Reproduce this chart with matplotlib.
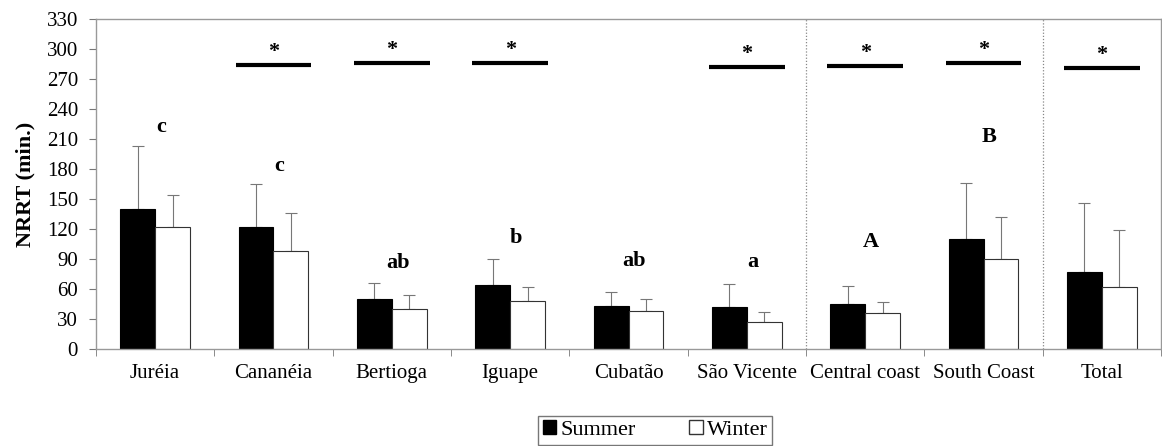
import numpy as np
import matplotlib.pyplot as plt
from matplotlib.patches import Patch

plt.rcParams['font.family'] = ['Liberation Serif', 'DejaVu Serif']

sites = ['Juréia', 'Cananéia', 'Bertioga', 'Iguape', 'Cubatão', 'São Vicente',
         'Central coast', 'South Coast', 'Total']
summer = [140, 122, 50, 64, 43, 42, 45, 110, 77]
summer_sd = [63, 43, 16, 26, 14, 23, 18, 56, 69]
winter = [122, 98, 40, 48, 38, 27, 36, 90, 62]
winter_sd = [32, 38, 14, 14, 12, 10, 11, 42, 57]

letters = ['c', 'c', 'ab', 'b', 'ab', 'a', 'A', 'B', '']
letter_y = [222, 183, 86, 111, 88, 87, 107, 212, 0]

# significance bars (category index, height)
sig_idx = [1, 2, 3, 5, 6, 7, 8]
sig_y = [284, 286, 286, 282, 283, 286, 281]

fig = plt.figure(figsize=(11.62, 4.46), dpi=100)
ax = fig.add_axes([0.0826, 0.2175, 0.9166, 0.7399])

x = np.arange(len(sites))
w = 0.295
ax.bar(x - w / 2, summer, w, color='black', edgecolor='black', lw=0.8, zorder=2)
ax.bar(x + w / 2, winter, w, color='white', edgecolor='#333333', lw=0.8, zorder=2)
ax.errorbar(x - w / 2, summer, yerr=[np.zeros(len(x)), summer_sd], fmt='none',
            ecolor='#777777', elinewidth=0.8, capsize=4, capthick=0.8, zorder=1)
ax.errorbar(x + w / 2, winter, yerr=[np.zeros(len(x)), winter_sd], fmt='none',
            ecolor='#777777', elinewidth=0.8, capsize=4, capthick=0.8, zorder=1)

for i, (t, yy) in enumerate(zip(letters, letter_y)):
    if t:
        ax.text(x[i] + 0.05, yy, t, ha='center', va='center', fontsize=16,
                fontweight='bold')

for i, yy in zip(sig_idx, sig_y):
    ax.plot([x[i] - 0.32, x[i] + 0.32], [yy, yy], color='black', lw=3,
            solid_capstyle='butt')
    ax.text(x[i], yy + 13, '*', ha='center', va='center', fontsize=16,
            fontweight='bold')

ax.axvline(5.5, color='#888888', lw=0.9, ls=(0, (1, 1.5)))
ax.axvline(7.5, color='#888888', lw=0.9, ls=(0, (1, 1.5)))

ax.set_xlim(-0.5, len(sites) - 0.5)
ax.set_ylim(0, 330)
ax.set_yticks(np.arange(0, 331, 30))
ax.set_xticks(x)
ax.set_xticklabels(sites, fontsize=15)
ax.set_xticks(np.arange(-0.5, len(sites)), minor=True)
ax.tick_params(axis='x', which='major', length=0, pad=11)
ax.tick_params(axis='x', which='minor', length=5, color='#777777')
ax.tick_params(axis='y', labelsize=15, length=5, color='#777777', pad=8)
ax.set_ylabel('NRRT (min.)', fontsize=16, fontweight='bold', labelpad=8)
for s in ax.spines.values():
    s.set_color('#999999')
    s.set_linewidth(1.0)

handles = [Patch(facecolor='black', edgecolor='black'),
           Patch(facecolor='white', edgecolor='#333333')]
fig.legend(handles, ['Summer', 'Winter'], loc='lower center',
           bbox_to_anchor=(0.564, -0.012), ncol=2, fontsize=16, frameon=True,
           fancybox=False, edgecolor='#555555', handlelength=0.6,
           handleheight=0.6, handletextpad=0.2, columnspacing=2.4,
           borderpad=0.2, borderaxespad=0.3)

fig.savefig('out.png', dpi=100)
